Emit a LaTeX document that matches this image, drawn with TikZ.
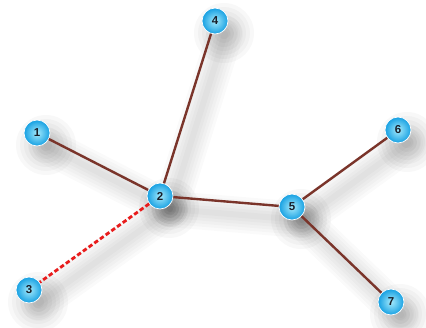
\documentclass[tikz,border=0pt]{standalone}
\usepackage{fontspec}
\setmainfont{Liberation Sans}
\definecolor{edgebrown}{RGB}{122,52,42}
\definecolor{dashred}{RGB}{232,28,28}
\definecolor{ballin}{RGB}{165,234,252}
\definecolor{ballout}{RGB}{22,160,226}
\definecolor{numtxt}{RGB}{25,30,40}
\tikzset{
  vtx/.style={circle, minimum size=26pt, inner sep=0pt,
    inner color=ballin, outer color=ballout, draw=white, line width=0.7pt,
    font=\bfseries\fontsize{11.5}{11.5}\selectfont, text=numtxt},
  edge/.style={draw=edgebrown, line width=2.4pt},
  dashedge/.style={draw=dashred, line width=2.8pt, dash pattern=on 4.5pt off 2.5pt},
  es/.style={draw=black, opacity=0.018, line cap=round},
  ns/.style={fill=black, opacity=0.028},
}
\newcommand{\edgeshadow}[2]{%
  \foreach \w in {6,12,18,24,30,36}{\draw[es, line width=\w pt] ([shift={(10,13)}]#1) -- ([shift={(10,13)}]#2);}}
\newcommand{\nodeshadow}[1]{%
  \foreach \r in {6,10,14,18,22,26,30}{\fill[ns] ([shift={(9,12)}]#1) circle (\r);}}
\begin{document}
\begin{tikzpicture}[x=1pt,y=-1pt]
\useasboundingbox (0,0) rectangle (426,327);
\fill[white] (0,0) rectangle (426,327);
% node positions
\coordinate (p1) at (37,133);
\coordinate (p2) at (160,196);
\coordinate (p3) at (29,290);
\coordinate (p4) at (215,21);
\coordinate (p5) at (292,207);
\coordinate (p6) at (398,130);
\coordinate (p7) at (391,302);
% soft shadows
\edgeshadow{p1}{p2}
\edgeshadow{p4}{p2}
\edgeshadow{p2}{p5}
\edgeshadow{p5}{p6}
\edgeshadow{p5}{p7}
\edgeshadow{p2}{p3}
\foreach \p in {p1,p2,p3,p4,p5,p6,p7}{\nodeshadow{\p}}
% nodes
\node[vtx] (n1) at (p1) {1};
\node[vtx] (n2) at (p2) {2};
\node[vtx] (n3) at (p3) {3};
\node[vtx] (n4) at (p4) {4};
\node[vtx] (n5) at (p5) {5};
\node[vtx] (n6) at (p6) {6};
\node[vtx] (n7) at (p7) {7};
% edges
\draw[edge] (n1) -- (n2);
\draw[edge] (n4) -- (n2);
\draw[edge] (n2) -- (n5);
\draw[edge] (n5) -- (n6);
\draw[edge] (n5) -- (n7);
\draw[dashedge] (n2) -- (n3);
\end{tikzpicture}
\end{document}
